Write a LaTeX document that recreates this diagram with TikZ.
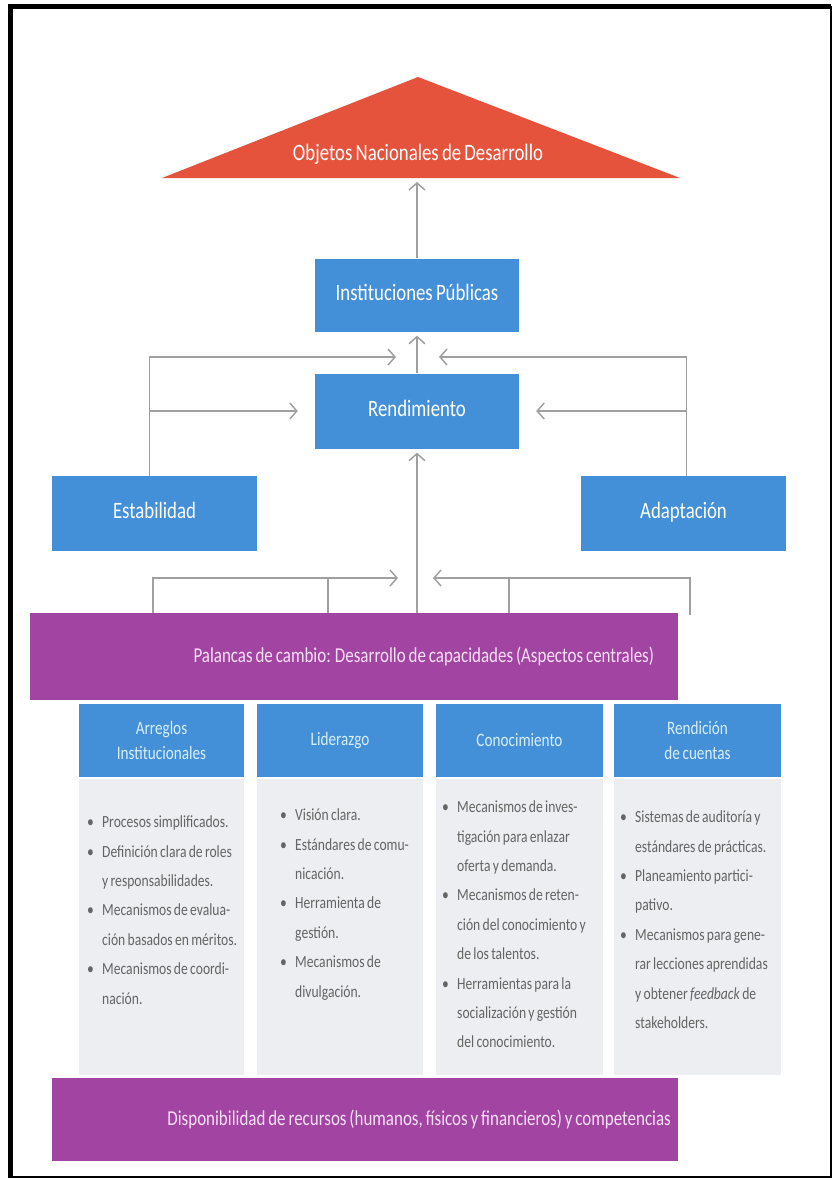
\documentclass[tikz,border=0pt]{standalone}
\usepackage{fontspec}
\setmainfont{Carlito}[FakeStretch=0.8,WordSpace=0.75]
\usetikzlibrary{arrows.meta,calc}

\definecolor{roofred}{RGB}{230,83,60}
\definecolor{boxblue}{RGB}{68,144,216}
\definecolor{headink}{RGB}{215,238,252}
\definecolor{lever}{RGB}{162,68,162}
\definecolor{leverink}{RGB}{248,225,248}
\definecolor{pane}{RGB}{237,238,242}
\definecolor{wiregray}{RGB}{160,160,160}
\definecolor{bodyink}{RGB}{100,100,100}

\newcommand\itm{\makebox[15pt][l]{\textbullet}}
\newcommand\cnt{\hspace*{15pt}}

\tikzset{
  bluebox/.style={rectangle, fill=boxblue, text=white, inner sep=0pt,
    text height=14pt, text depth=4pt, font=\fontsize{23.5}{26}\selectfont},
  hdr/.style={rectangle, fill=boxblue, text=headink, inner sep=0pt,
    minimum height=73pt, align=center, font=\fontsize{19}{25}\selectfont},
  panebox/.style={rectangle, fill=pane, inner sep=0pt, minimum height=296pt, anchor=north},
  bullets/.style={anchor=north west, inner sep=0pt, align=left, text=bodyink,
    font=\fontsize{17}{29.4}\selectfont},
  leverbar/.style={rectangle, fill=lever, text=leverink, inner sep=0pt, align=flush right,
    font=\fontsize{21.2}{25}\selectfont},
  wire/.style={draw=wiregray, line width=1.5pt},
  arr/.style={wire, -{Straight Barb[length=7pt,width=16pt]}},
}

\begin{document}
\begin{tikzpicture}[x=1pt,y=-1pt]
\useasboundingbox (0,0) rectangle (834,1180);
\fill[white] (0,0) rectangle (834,1180);

% outer frame
\draw[line width=2pt] (10.5,7) rectangle (830.5,1177);
\draw[line width=5pt] (10.5,1178) -- (10.5,7) -- (831,7);

% roof
\fill[roofred] (162,178) -- (418,77) -- (680,178) -- cycle;
\node[text=white, font=\fontsize{23.5}{26}\selectfont] (goal) at (418,154) {Objetos Nacionales de Desarrollo};
\coordinate (roofbase) at (418,178);

% main boxes
\node[bluebox, minimum width=204pt, minimum height=73pt] (inst) at (417,295) {Instituciones Públicas};
\node[bluebox, minimum width=204pt, minimum height=75pt] (rend) at (417,411) {Rendimiento};
\node[bluebox, minimum width=205pt, minimum height=75pt] (estab) at (154.5,513.5) {Estabilidad};
\node[bluebox, minimum width=205pt, minimum height=75pt] (adapt) at (683.5,513.5) {Adaptación};

% lever bars (text set flush right)
\node[leverbar, minimum width=648pt, minimum height=87pt, text width=600pt, inner xsep=24pt]
  (lever) at (354,656.5) {Palancas de cambio: Desarrollo de capacidades (Aspectos centrales)};
\node[leverbar, minimum width=626pt, minimum height=83pt, text width=612pt, inner xsep=7pt]
  (dispo) at (365,1119.5) {Disponibilidad de recursos (humanos, físicos y financieros) y competencias};

% column headers and panes
\node[hdr, minimum width=165pt] (h1) at (161.5,740.5) {Arreglos\\Institucionales};
\node[hdr, minimum width=166pt] (h2) at (340,740.5) {Liderazgo};
\node[hdr, minimum width=167pt] (h3) at (519.5,740.5) {Conocimiento};
\node[hdr, minimum width=167pt] (h4) at (697.5,740.5) {Rendición\\de cuentas};
\node[panebox, minimum width=165pt] (p1) at ([yshift=-2pt]h1.south) {};
\node[panebox, minimum width=166pt] (p2) at ([yshift=-2pt]h2.south) {};
\node[panebox, minimum width=167pt] (p3) at ([yshift=-2pt]h3.south) {};
\node[panebox, minimum width=167pt] (p4) at ([yshift=-2pt]h4.south) {};

% column contents
\node[bullets] (t1) at (87,807) {\strut\itm Procesos simplificados.\\
  \itm Definición clara de roles\\
  \cnt y responsabilidades.\\
  \itm Mecanismos de evalua-\\
  \cnt ción basados en méritos.\\
  \itm Mecanismos de coordi-\\
  \cnt nación.};
\node[bullets] (t2) at (280,800) {\strut\itm Visión clara.\\
  \itm Estándares de comu-\\
  \cnt nicación.\\
  \itm Herramienta de\\
  \cnt gestión.\\
  \itm Mecanismos de\\
  \cnt divulgación.};
\node[bullets] (t3) at (442,792) {\strut\itm Mecanismos de inves-\\
  \cnt tigación para enlazar\\
  \cnt oferta y demanda.\\
  \itm Mecanismos de reten-\\
  \cnt ción del conocimiento y\\
  \cnt de los talentos.\\
  \itm Herramientas para la\\
  \cnt socialización y gestión\\
  \cnt del conocimiento.};
\node[bullets] (t4) at (620,802) {\strut\itm Sistemas de auditoría y\\
  \cnt estándares de prácticas.\\
  \itm Planeamiento partici-\\
  \cnt pativo.\\
  \itm Mecanismos para gene-\\
  \cnt rar lecciones aprendidas\\
  \cnt y obtener \textit{feedback} de\\
  \cnt stakeholders.};

% connectors: upper part
\draw[arr, shorten >=4pt] (inst.north) -- (inst.north |- roofbase);
\draw[arr, shorten >=4pt] (rend.north) -- (inst.south);
\coordinate (tl) at (396,357);
\coordinate (tr) at (439,357);
\coordinate (sL) at ($(estab.north)+(-5,0)$);
\coordinate (sR) at ($(adapt.north)+(3,0)$);
\draw[arr] (sL) |- (tl);
\draw[arr] (sR) |- (tr);
\draw[arr, shorten >=17pt] (sL |- rend.west) -- (rend.west);
\draw[arr, shorten >=17pt] (sR |- rend.east) -- (rend.east);

% connectors: from the levers
\coordinate (lc) at (lever.north -| rend.south);
\draw[arr, shorten >=4pt] (lc) -- (rend.south);
\coordinate (bl) at (398,578);
\coordinate (br) at (433,578);
\coordinate (f1) at ($(lever.north west)+(123,0)$);
\coordinate (f2) at ($(lever.north west)+(298,0)$);
\coordinate (f3) at ($(lever.north west)+(479,0)$);
\coordinate (f4) at ($(lever.north west)+(660,2)$);
\draw[arr] (f1) |- (bl);
\draw[wire] (f2) -- (f2 |- bl);
\draw[arr] (f4) |- (br);
\draw[wire] (f3) -- (f3 |- br);
\end{tikzpicture}
\end{document}
